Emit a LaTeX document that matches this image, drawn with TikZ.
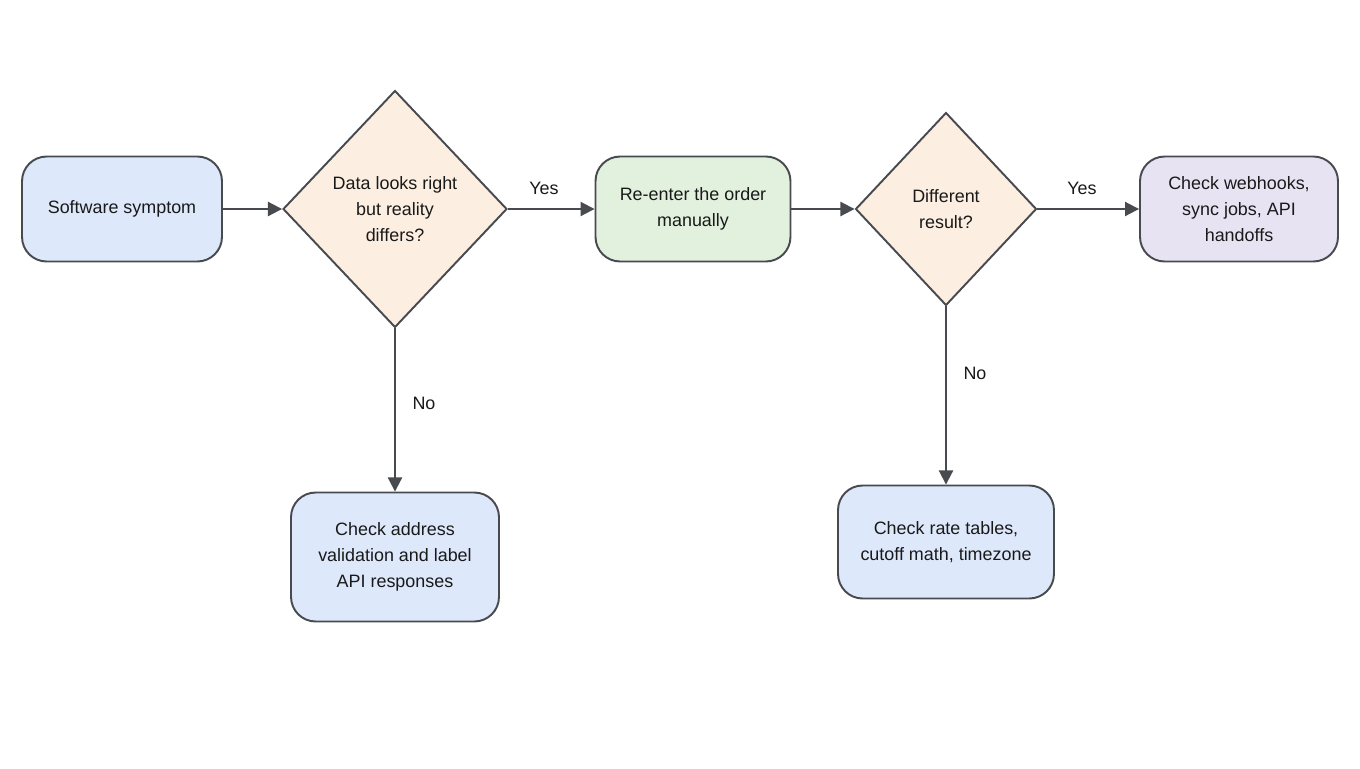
\documentclass[tikz,border=0pt]{standalone}
\usepackage{fontspec}
\setmainfont{Liberation Sans}
\usetikzlibrary{shapes.geometric,arrows.meta}
\definecolor{ln}{HTML}{474A4F}
\definecolor{bl}{HTML}{DDE8FA}
\definecolor{og}{HTML}{FCEFE2}
\definecolor{gr}{HTML}{E2F0DE}
\definecolor{pu}{HTML}{E7E3F3}
\begin{document}
\begin{tikzpicture}[x=0.02cm,y=-0.02cm,
 every node/.style={font=\fontsize{10.2pt}{15pt}\selectfont,text=black!90,align=center},
 box/.style={draw=ln,line width=1.1pt,rounded corners=14pt,inner sep=0pt},
 dia/.style={draw=ln,line width=1.1pt,diamond,inner sep=0pt,fill=og},
 arr/.style={draw=ln,line width=1.1pt,-{Triangle[length=8pt,width=8pt]}},
 lab/.style={fill=none}]
\useasboundingbox (0,0) rectangle (1360,768);
\node[box,fill=bl,minimum width=4cm,minimum height=2.1cm] (s) at (122,209) {Software symptom};
\node[dia,minimum width=4.48cm,minimum height=4.74cm] (d1) at (395,209) {Data looks right\\but reality\\differs?};
\node[box,fill=gr,minimum width=3.9cm,minimum height=2.1cm] (r) at (693,209) {Re-enter the order\\manually};
\node[dia,minimum width=3.62cm,minimum height=3.86cm] (d2) at (946,209) {Different\\result?};
\node[box,fill=pu,minimum width=3.96cm,minimum height=2.1cm] (w) at (1239,209) {Check webhooks,\\sync jobs, API\\handoffs};
\node[box,fill=bl,minimum width=4.16cm,minimum height=2.58cm] (a) at (395,557) {Check address\\validation and label\\API responses};
\node[box,fill=bl,minimum width=4.32cm,minimum height=2.26cm] (t) at (946,542) {Check rate tables,\\cutoff math, timezone};
\draw[arr] (s) -- (d1);
\draw[arr] (d1) -- (r);
\draw[arr] (r) -- (d2);
\draw[arr] (d2) -- (w);
\draw[arr] (d1) -- (a);
\draw[arr] (d2) -- (t);
\node[lab] (y1) at (544,188) {Yes};
\node[lab] (y2) at (1082,188) {Yes};
\node[lab] (n1) at (424,403) {No};
\node[lab] (n2) at (975,373) {No};
\end{tikzpicture}
\end{document}
